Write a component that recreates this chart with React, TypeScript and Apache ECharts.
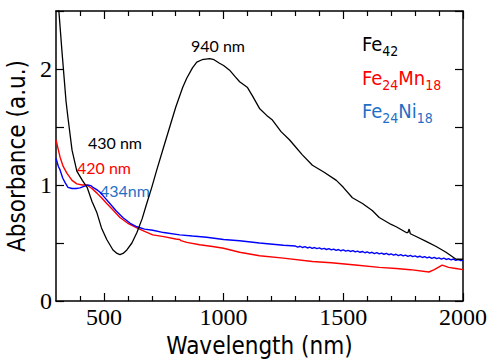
import React, { useEffect, useRef } from "react";
import * as echarts from "echarts";

// ---- data ----
const wlFe42 = [300, 312, 325, 342, 350, 367, 387, 410, 430, 450, 471, 490, 512, 538, 555, 567, 580, 596, 617, 638, 660, 679, 700, 721, 750, 775, 800, 829, 846, 870, 888, 910, 942, 960, 983, 1000, 1025, 1050, 1067, 1100, 1120, 1150, 1180, 1204, 1240, 1275, 1300, 1329, 1371, 1420, 1471, 1500, 1538, 1580, 1621, 1650, 1700, 1721, 1763, 1770, 1775, 1780, 1800, 1850, 1888, 1929, 1971, 2000];
const absFe42 = [2.62, 2.5, 2.15, 1.72, 1.58, 1.3, 1.12, 1.04, 0.98, 0.86, 0.76, 0.63, 0.53, 0.44, 0.41, 0.4, 0.41, 0.44, 0.5, 0.59, 0.71, 0.84, 0.98, 1.13, 1.33, 1.5, 1.67, 1.84, 1.92, 2.01, 2.06, 2.08, 2.09, 2.08, 2.05, 2.03, 1.99, 1.93, 1.89, 1.84, 1.77, 1.66, 1.6, 1.56, 1.46, 1.39, 1.33, 1.26, 1.17, 1.11, 1.04, 0.98, 0.89, 0.84, 0.78, 0.72, 0.66, 0.64, 0.59, 0.59, 0.62, 0.58, 0.56, 0.51, 0.47, 0.42, 0.36, 0.36];

const wlFe24Mn18 = [300, 310, 317, 330, 346, 367, 387, 410, 429, 450, 471, 490, 512, 540, 567, 600, 638, 670, 704, 750, 800, 817, 822, 846, 900, 954, 1000, 1067, 1150, 1250, 1371, 1450, 1550, 1650, 1721, 1780, 1858, 1880, 1913, 1940, 1970, 2000];
const absFe24Mn18 = [1.39, 1.3, 1.24, 1.16, 1.1, 1.04, 1.01, 1.0, 1.0, 0.97, 0.93, 0.89, 0.84, 0.78, 0.72, 0.67, 0.63, 0.6, 0.57, 0.555, 0.535, 0.53, 0.52, 0.505, 0.485, 0.47, 0.455, 0.42, 0.39, 0.37, 0.34, 0.33, 0.31, 0.29, 0.28, 0.27, 0.25, 0.27, 0.31, 0.29, 0.28, 0.27];

const wlFe24Ni18 = [300, 310, 317, 328, 338, 350, 367, 385, 400, 420, 433, 445, 454, 470, 483, 500, 525, 550, 579, 610, 638, 670, 704, 750, 817, 870, 929, 1000, 1067, 1150, 1250,
  1300, 1310, 1320, 1330, 1340, 1350, 1360, 1370, 1380, 1390, 1400, 1410, 1420, 1430, 1440, 1450, 1460, 1470, 1480, 1490, 1500, 1510, 1520, 1530, 1540, 1550, 1560, 1570, 1580, 1590, 1600, 1610, 1620, 1630, 1640, 1650, 1660, 1670, 1680, 1690, 1700, 1710, 1720, 1730, 1740, 1750, 1760, 1770, 1780, 1790, 1800, 1810, 1820, 1830, 1840, 1850, 1860, 1870, 1880, 1890, 1900, 1910, 1920, 1930, 1940, 1950, 1960, 1970, 1980, 1990, 2000];
const absFe24Ni18 = [1.23, 1.16, 1.13, 1.06, 1.02, 0.98, 0.97, 0.97, 0.975, 0.99, 1.0, 0.995, 0.98, 0.96, 0.94, 0.9, 0.84, 0.78, 0.72, 0.67, 0.64, 0.62, 0.61, 0.59, 0.57, 0.56, 0.55, 0.53, 0.52, 0.5, 0.48,
  0.474, 0.464, 0.472, 0.461, 0.468, 0.457, 0.465, 0.454, 0.461, 0.451, 0.458, 0.447, 0.454, 0.444, 0.451, 0.44, 0.448, 0.437, 0.444, 0.433, 0.441, 0.43, 0.437, 0.427, 0.434, 0.423, 0.43, 0.42, 0.427, 0.416, 0.424, 0.413, 0.42, 0.409, 0.417, 0.406, 0.413, 0.403, 0.41, 0.399, 0.406, 0.396, 0.403, 0.392, 0.4, 0.389, 0.396, 0.385, 0.393, 0.382, 0.389, 0.379, 0.386, 0.375, 0.382, 0.372, 0.379, 0.368, 0.376, 0.365, 0.372, 0.361, 0.369, 0.358, 0.365, 0.354, 0.362, 0.351, 0.358, 0.348, 0.35];

const xMajorTicks = [500, 1000, 1500, 2000];
const xMinorTicks = [400, 600, 700, 800, 900, 1100, 1200, 1300, 1400, 1600, 1700, 1800, 1900];

const SANS = "'DejaVu Sans Condensed', 'DejaVu Sans', sans-serif";
const SERIF = "'Liberation Serif', 'DejaVu Serif', serif";
const ANNO = "Lato, 'Open Sans', sans-serif";
const BLUE_TEXT = "#1f6fc6";

const zip = (xs: number[], ys: number[]) => xs.map((x, i) => [x, ys[i]]);

export default function App() {
  const ref = useRef<HTMLDivElement>(null);
  useEffect(() => {
    if (!ref.current) return;
    const chart = echarts.init(ref.current, null, { renderer: "svg" });
    const axisLine = { show: true, lineStyle: { color: "#000", width: 1.5 } };
    const xBase = { type: "value", min: 300, max: 2000, splitLine: { show: false } };
    const yBase = { type: "value", min: 0, max: 2.5, interval: 0.5, splitLine: { show: false } };
    chart.setOption({
      animation: false,
      backgroundColor: "#fff",
      grid: { left: 56, right: 26, top: 11, bottom: 63, outerBoundsMode: "none", containLabel: false },
      xAxis: [
        {
          ...xBase,
          position: "bottom",
          axisLine,
          axisTick: { show: true, inside: true, length: 8, customValues: xMajorTicks, lineStyle: { color: "#000", width: 1.2 } },
          axisLabel: {
            customValues: xMajorTicks,
            color: "#000",
            fontFamily: SERIF,
            fontSize: 24,
            margin: 4,
            formatter: (v: number) => String(v),
          },
          name: "Wavelength (nm)",
          nameLocation: "middle",
          nameGap: 32,
          nameTextStyle: { color: "#000", fontFamily: SANS, fontSize: 24 },
        },
        {
          ...xBase,
          position: "bottom",
          axisLine: { show: false },
          axisTick: { show: true, inside: true, length: 5, customValues: xMinorTicks, lineStyle: { color: "#000", width: 1.2 } },
          axisLabel: { show: false },
        },
        {
          ...xBase,
          position: "top",
          axisLine,
          axisTick: { show: true, inside: true, length: 8, customValues: xMajorTicks, lineStyle: { color: "#000", width: 1.2 } },
          axisLabel: { show: false },
        },
        {
          ...xBase,
          position: "top",
          axisLine: { show: false },
          axisTick: { show: true, inside: true, length: 5, customValues: xMinorTicks, lineStyle: { color: "#000", width: 1.2 } },
          axisLabel: { show: false },
        },
      ],
      yAxis: [
        {
          ...yBase,
          position: "left",
          axisLine,
          axisTick: { show: true, inside: true, length: 8, lineStyle: { color: "#000", width: 1.2 } },
          axisLabel: {
            color: "#000",
            fontFamily: SERIF,
            fontSize: 24,
            margin: 4,
            formatter: (v: number) => (Number.isInteger(v) && v < 2.5 ? String(v) : ""),
          },
          name: "Absorbance (a.u.)",
          nameLocation: "middle",
          nameGap: 21,
          nameRotate: 90,
          nameTextStyle: { color: "#000", fontFamily: SANS, fontSize: 24 },
        },
        {
          ...yBase,
          position: "right",
          axisLine,
          axisTick: { show: true, inside: true, length: 8, lineStyle: { color: "#000", width: 1.2 } },
          axisLabel: { show: false },
        },
      ],
      series: [
        {
          name: "Fe24Mn18",
          type: "line",
          data: zip(wlFe24Mn18, absFe24Mn18),
          showSymbol: false,
          lineStyle: { color: "#ff0000", width: 1.4 },
          itemStyle: { color: "#ff0000" },
        },
        {
          name: "Fe24Ni18",
          type: "line",
          data: zip(wlFe24Ni18, absFe24Ni18),
          showSymbol: false,
          lineStyle: { color: "#0000ff", width: 1.4 },
          itemStyle: { color: "#0000ff" },
        },
        {
          name: "Fe42",
          type: "line",
          data: zip(wlFe42, absFe42),
          showSymbol: false,
          lineStyle: { color: "#000", width: 1.3 },
          itemStyle: { color: "#000" },
        },
      ],
      graphic: [
        { type: "text", x: 191, y: 45.5, style: { text: "940 nm", fill: "#000", font: `16px ${ANNO}`, verticalAlign: "middle" } },
        { type: "text", x: 88, y: 142, style: { text: "430 nm", fill: "#000", font: `16px ${ANNO}`, verticalAlign: "middle" } },
        { type: "text", x: 77, y: 167, style: { text: "420 nm", fill: "#ff0000", font: `16px ${ANNO}`, verticalAlign: "middle" } },
        { type: "text", x: 100, y: 190, style: { text: "434nm", fill: BLUE_TEXT, font: `16px ${ANNO}`, verticalAlign: "middle" } },
        ...[
          { t: "{m|Fe}{s|42}", c: "#000", y: 34 },
          { t: "{m|Fe}{s|24}{m|Mn}{s|18}", c: "#ff0000", y: 68 },
          { t: "{m|Fe}{s|24}{m|Ni}{s|18}", c: BLUE_TEXT, y: 101 },
        ].map((l) => ({
          type: "text",
          x: 362,
          y: l.y,
          style: {
            text: l.t,
            verticalAlign: "top",
            rich: {
              m: { fontSize: 20, lineHeight: 24, fontFamily: SANS, fill: l.c, color: l.c, verticalAlign: "top" },
              s: { fontSize: 14, lineHeight: 12, fontFamily: SANS, fill: l.c, color: l.c, verticalAlign: "bottom" },
            },
          },
        })),
      ],
    });
    return () => chart.dispose();
  }, []);
  return <div ref={ref} style={{ position: "fixed", left: 0, top: 0, width: 489, height: 364 }} />;
}
